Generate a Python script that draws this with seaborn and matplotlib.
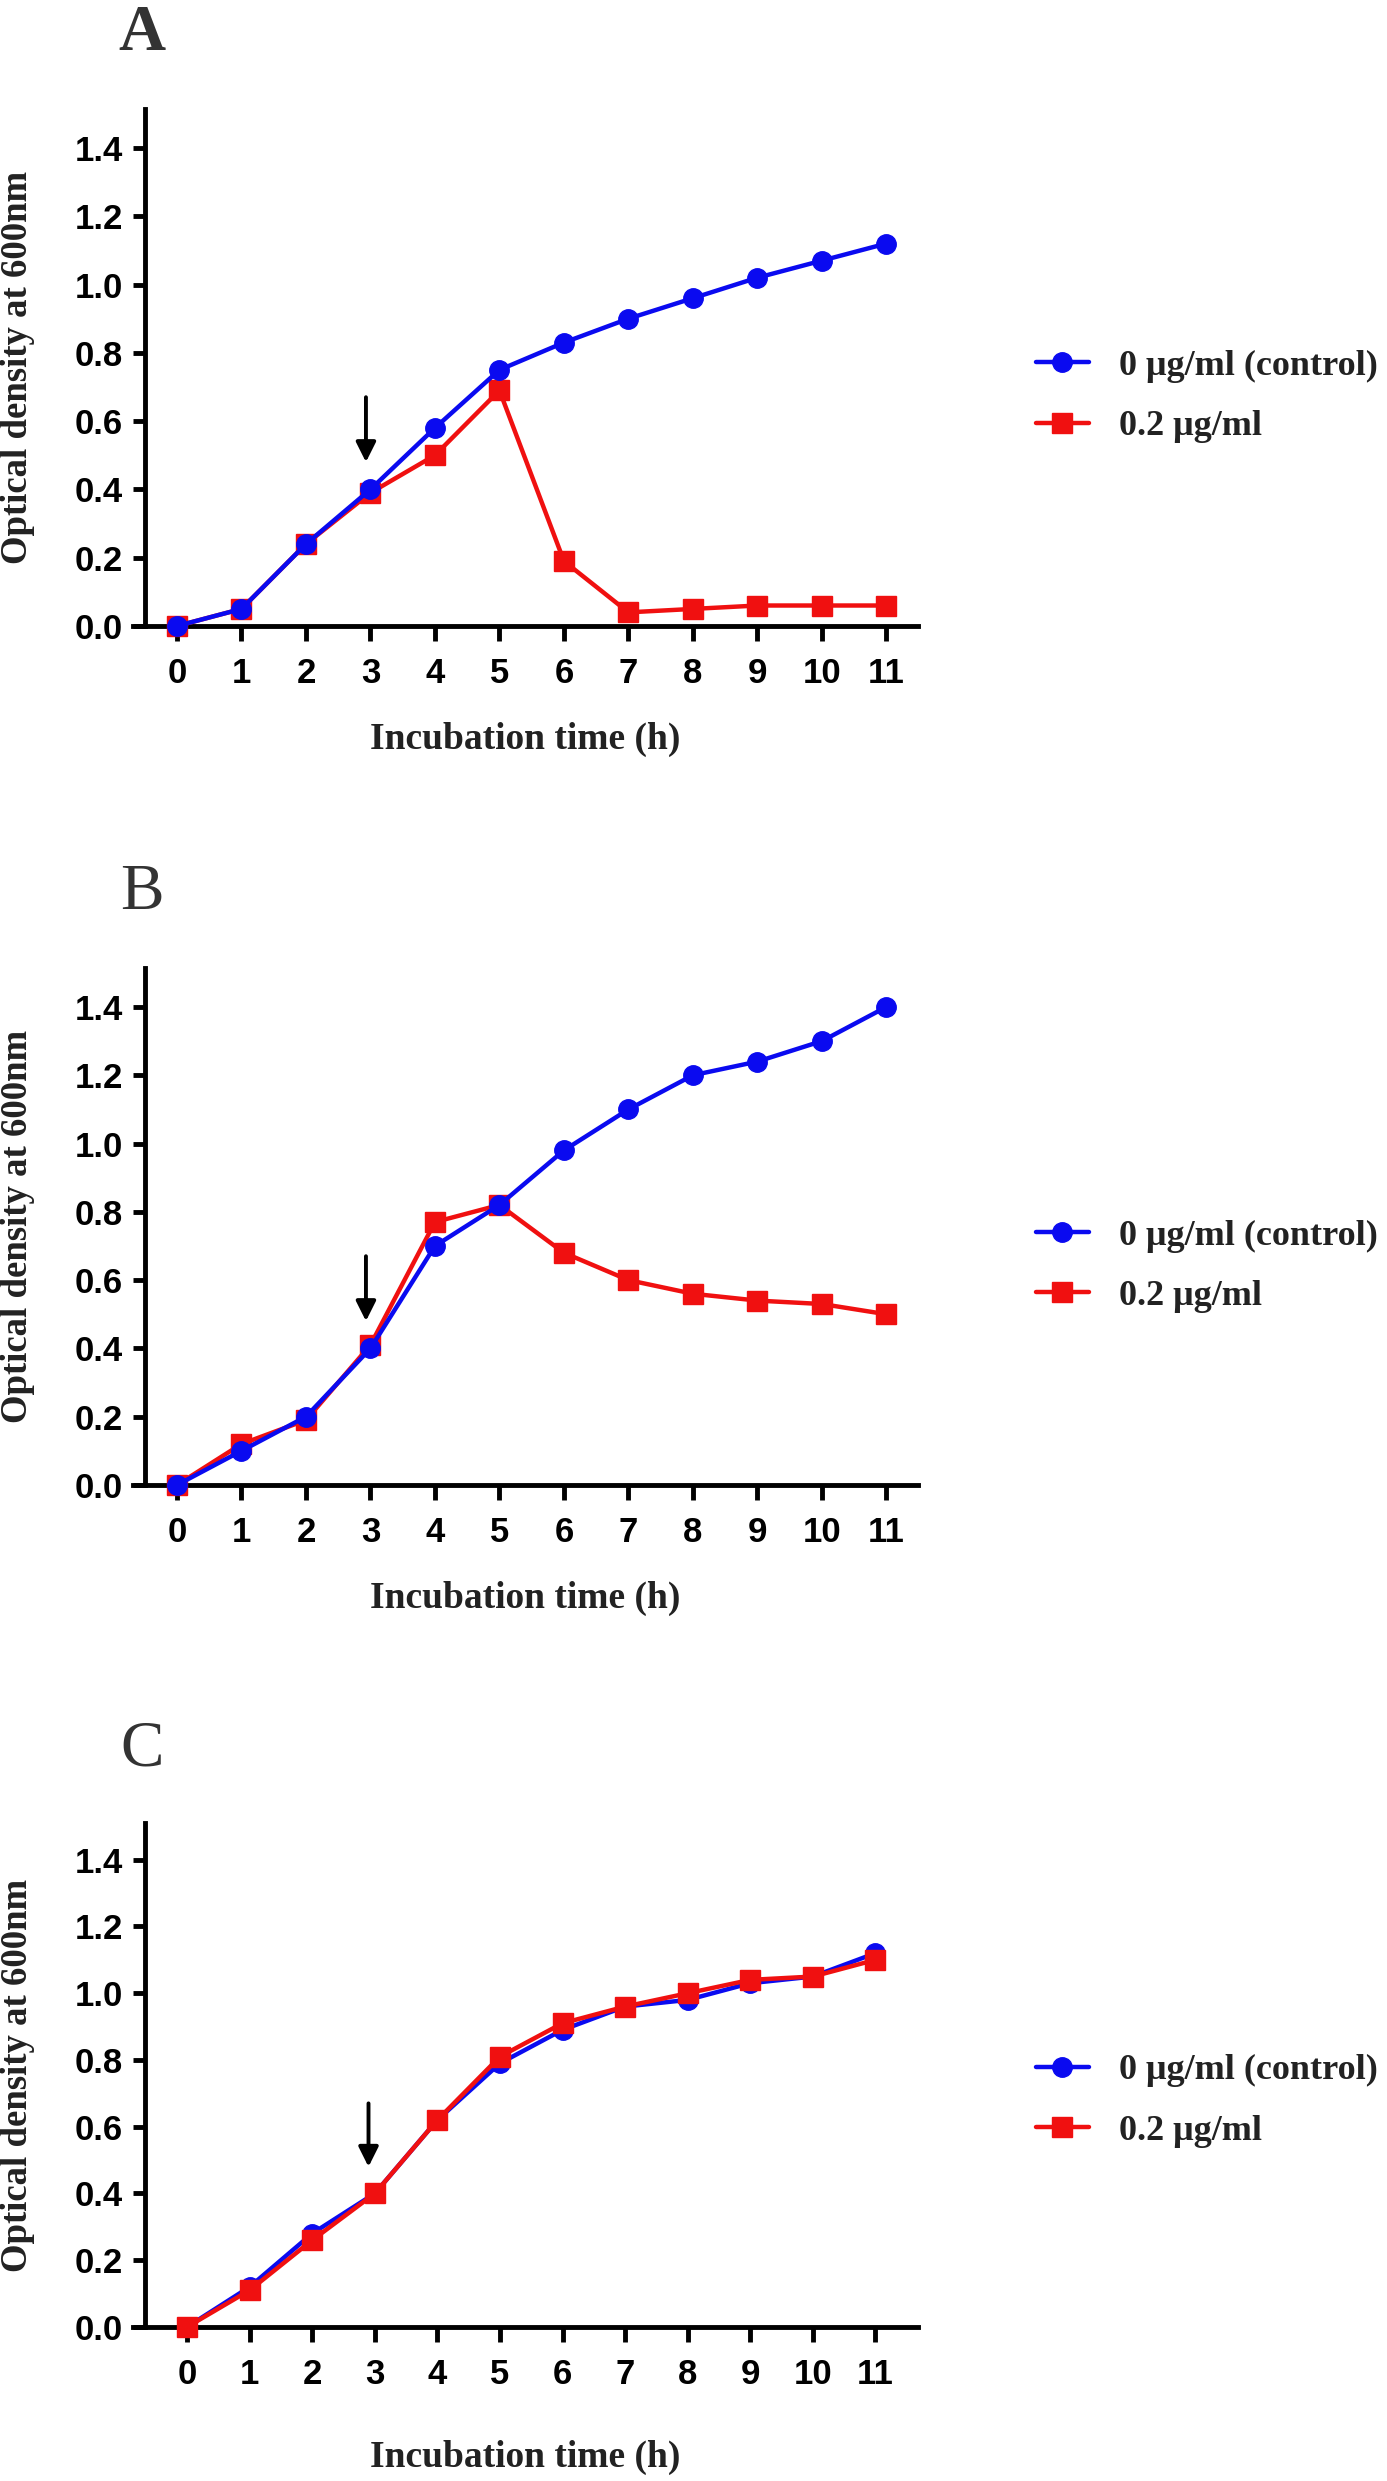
import matplotlib
matplotlib.use("Agg")
import matplotlib.pyplot as plt
import seaborn as sns
import numpy as np

# ---------------- data ----------------
hours = [0, 1, 2, 3, 4, 5, 6, 7, 8, 9, 10, 11]
x_tick_labels = ["0", "1", "2", "3", "4", "5", "6", "7", "8", "9", "10", "11"]
y_ticks = [0.0, 0.2, 0.4, 0.6, 0.8, 1.0, 1.2, 1.4]
series_labels = ["0 \u03bcg/ml (control)", "0.2 \u03bcg/ml"]
panel_letters = ["A", "B", "C"]

A_control = [0.00, 0.05, 0.24, 0.40, 0.58, 0.75, 0.83, 0.90, 0.96, 1.02, 1.07, 1.12]
A_treated = [0.00, 0.05, 0.24, 0.39, 0.50, 0.69, 0.19, 0.04, 0.05, 0.06, 0.06, 0.06]
B_control = [0.00, 0.10, 0.20, 0.40, 0.70, 0.82, 0.98, 1.10, 1.20, 1.24, 1.30, 1.40]
B_treated = [0.00, 0.12, 0.19, 0.41, 0.77, 0.82, 0.68, 0.60, 0.56, 0.54, 0.53, 0.50]
C_control = [0.00, 0.12, 0.28, 0.40, 0.62, 0.79, 0.89, 0.96, 0.98, 1.03, 1.05, 1.12]
C_treated = [0.00, 0.11, 0.26, 0.40, 0.62, 0.81, 0.91, 0.96, 1.00, 1.04, 1.05, 1.10]

arrow_x = [2.93, 2.93, 2.90]
arrow_top = 0.67
arrow_tip = 0.48

# ---------------- style ----------------
sns.set_style("white")
plt.rcParams["font.family"] = ["Liberation Sans", "DejaVu Sans"]
plt.rcParams["font.weight"] = "bold"

BLUE = "#0a0af0"
RED = "#f01010"
SERIF = ["Liberation Serif", "DejaVu Serif"]

W, H = 1387, 2481
fig = plt.figure(figsize=(W / 100, H / 100), dpi=100)

def fx(px):
    return px / W

def fy(px):
    return 1 - px / H

panels = [
    dict(zero=626, top=109, ytop=1.514, xlim=(-0.682, 11.49), yx=-0.496,
         ctrl=A_control, trt=A_treated, red_on_top=False, legy=0.444, xlab=-0.186,
         letter_weight="bold"),
    dict(zero=1485, top=968, ytop=1.514, xlim=(-0.682, 11.49), yx=-0.496,
         ctrl=B_control, trt=B_treated, red_on_top=False, legy=0.423, xlab=-0.186,
         letter_weight="normal"),
    dict(zero=2327, top=1823, ytop=1.51, xlim=(-0.863, 11.68), yx=-0.671,
         ctrl=C_control, trt=C_treated, red_on_top=True, legy=0.449, xlab=-0.224,
         letter_weight="normal"),
]

left_px, right_px = 133, 918

for i, p in enumerate(panels):
    ax = fig.add_axes([fx(left_px), fy(p["zero"]), fx(right_px - left_px),
                       (p["zero"] - p["top"]) / H])
    z_blue, z_red = (4, 3) if not p["red_on_top"] else (3, 4)
    sns.lineplot(x=hours, y=p["ctrl"], ax=ax, color=BLUE, marker="o",
                 markersize=14, markeredgecolor=BLUE, markeredgewidth=1,
                 linewidth=3.2, label=series_labels[0], zorder=z_blue, clip_on=False)
    sns.lineplot(x=hours, y=p["trt"], ax=ax, color=RED, marker="s",
                 markersize=14, markeredgecolor=RED, markeredgewidth=1,
                 linewidth=3.2, label=series_labels[1], zorder=z_red, clip_on=False)

    ax.set_xlim(*p["xlim"])
    ax.set_ylim(0, p["ytop"])
    ax.set_xticks(hours)
    ax.set_xticklabels(x_tick_labels)
    ax.set_yticks(y_ticks)
    ax.set_yticklabels([f"{v:.1f}" for v in y_ticks])

    for s in ["top", "right"]:
        ax.spines[s].set_visible(False)
    for s in ["left", "bottom"]:
        ax.spines[s].set_linewidth(3.5)
        ax.spines[s].set_color("black")
    ax.spines["left"].set_position(("data", p["yx"]))

    ax.tick_params(axis="y", direction="out", length=9, width=3.5, pad=7,
                   labelsize=25, colors="black", left=True)
    ax.tick_params(axis="x", direction="out", length=11, width=3.5, pad=11,
                   labelsize=25, colors="black", bottom=True)
    for lab in ax.get_xticklabels() + ax.get_yticklabels():
        lab.set_fontweight("bold")

    ax.set_xlabel("Incubation time (h)", family=SERIF, fontweight="bold",
                  fontsize=27, color="#222222")
    ax.xaxis.set_label_coords(0.5, p["xlab"])
    ax.set_ylabel("Optical density at 600nm", family=SERIF, fontweight="bold",
                  fontsize=26.5, color="#222222")
    ax.yaxis.set_label_coords(-0.125, 0.5)

    # arrow marking treatment time
    ax.annotate("", xy=(arrow_x[i], arrow_tip), xytext=(arrow_x[i], arrow_top),
                arrowprops=dict(arrowstyle="-|>", lw=2.8, color="black",
                                mutation_scale=30, shrinkA=0, shrinkB=0),
                zorder=6)

    # panel letter
    ax.text(0.0115, 1.114, panel_letters[i], transform=ax.transAxes,
            ha="center", va="baseline", family=SERIF, fontsize=47,
            color="#333333", fontweight=p["letter_weight"])

    leg = ax.legend(loc="center left", bbox_to_anchor=(1.150, p["legy"]),
                    frameon=False, borderaxespad=0, borderpad=0,
                    handlelength=1.47, handletextpad=0.83, labelspacing=0.75,
                    prop=dict(family=SERIF, weight="bold", size=26))
    for t in leg.get_texts():
        t.set_color("#222222")

fig.savefig("out.png", dpi=100, facecolor="white")
